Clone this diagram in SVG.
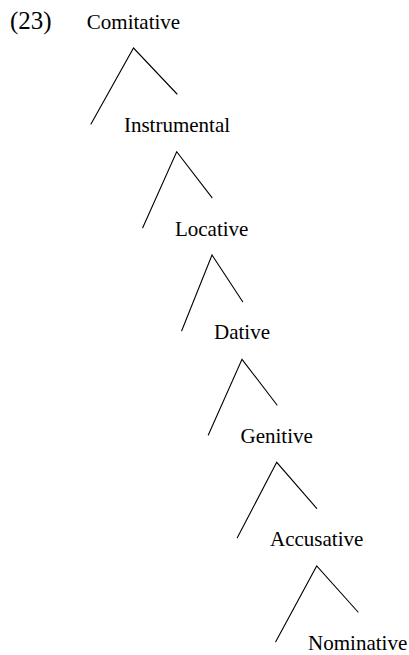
<svg xmlns="http://www.w3.org/2000/svg" width="409" height="655" viewBox="0 0 409 655">
<style>
text { font-family: "Liberation Serif", "Times New Roman", serif; font-size: 21px; fill: #000; }
.lbl { text-anchor: middle; }
.num { font-size: 25px; }
.edge { stroke: #000; stroke-width: 1.1; fill: none; stroke-linecap: round; }
</style>
<rect width="409" height="655" fill="#fff"/>
<text class="num" x="10" y="28.5">(23)</text>
<g id="comitative"><text class="lbl" x="133.5" y="28.5">Comitative</text></g>
<g id="instrumental"><text class="lbl" x="177" y="132">Instrumental</text></g>
<g id="locative"><text class="lbl" x="211.7" y="235.5">Locative</text></g>
<g id="dative"><text class="lbl" x="242" y="339">Dative</text></g>
<g id="genitive"><text class="lbl" x="276.7" y="442.5">Genitive</text></g>
<g id="accusative"><text class="lbl" x="316.7" y="546">Accusative</text></g>
<g id="nominative"><text class="lbl" x="357.7" y="650">Nominative</text></g>
<g id="connectors">
<path class="edge" d="M91,124 L133.5,48 L177,94"/>
<path class="edge" d="M142.7,227.7 L176.7,151.7 L212,197.7"/>
<path class="edge" d="M181.7,330.7 L212,255 L242.7,301.7"/>
<path class="edge" d="M208.3,435 L242,359.3 L277,405"/>
<path class="edge" d="M237.3,537.7 L276.7,462.3 L316.7,508.3"/>
<path class="edge" d="M275.7,641.7 L316.7,566 L358,612"/>
</g>
</svg>
